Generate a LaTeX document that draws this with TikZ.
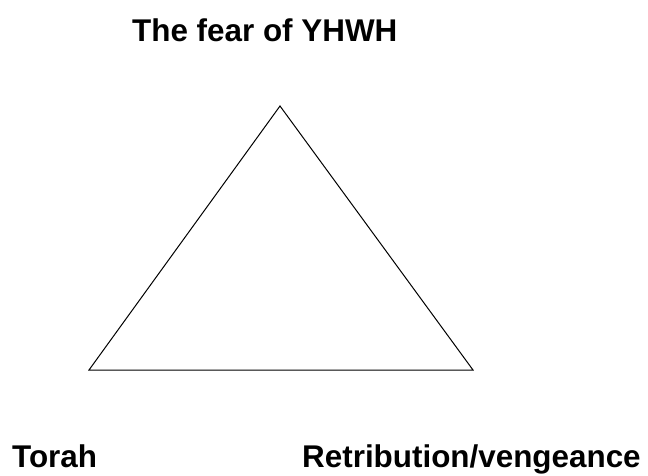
\documentclass[tikz,border=0pt]{standalone}
\usepackage{fontspec}
\setmainfont{Liberation Sans}
\usepackage{tikz}

\begin{document}
\begin{tikzpicture}[x=1pt, y=-1pt, every node/.style={font=\fontsize{31.4}{36}\selectfont\bfseries, inner sep=0pt, anchor=base west}]
	\useasboundingbox (0,0) rectangle (648,476);
	\coordinate (apex) at (280,106);
	\coordinate (left) at (89,370);
	\coordinate (right) at (473,370);
	\draw[line width=1pt, line join=miter] (apex) -- (left) -- (right) -- cycle;
	\node (fear) at (132,42) {The fear of YHWH};
	\node (torah) at (12,467) {Torah};
	\node (retribution) at (302,467) {Retribution/vengeance};
\end{tikzpicture}
\end{document}
